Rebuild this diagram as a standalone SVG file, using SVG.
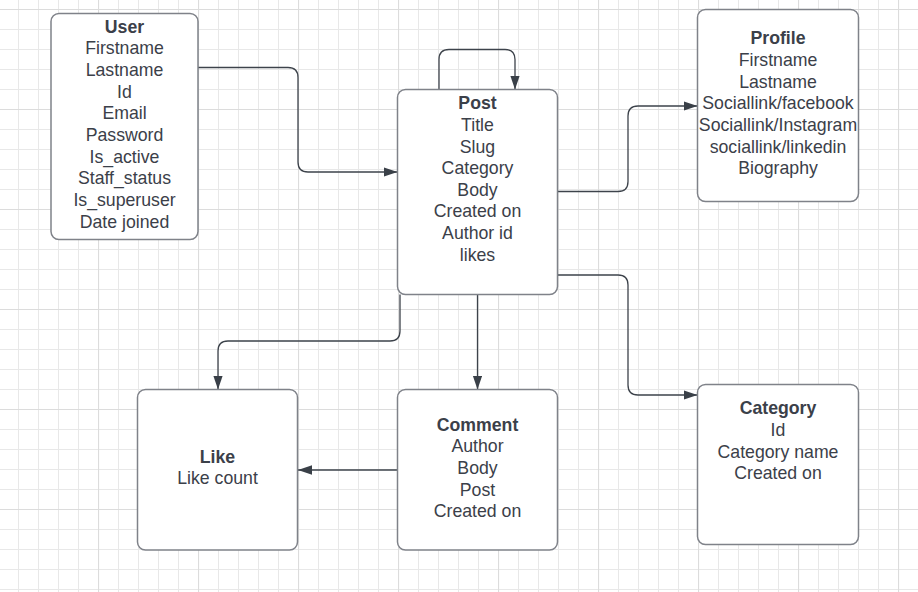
<svg xmlns="http://www.w3.org/2000/svg" width="918" height="592" viewBox="0 0 918 592">
<defs>
<pattern id="minor" x="18" y="9" width="20" height="20" patternUnits="userSpaceOnUse">
<path d="M0.5 0 V20 M0 0.5 H20" stroke="#e8e8e8" stroke-width="1" fill="none"/>
</pattern>
<pattern id="major" x="98" y="9" width="100" height="100" patternUnits="userSpaceOnUse">
<path d="M0.5 0 V100 M0 0.5 H100" stroke="#dcdcdc" stroke-width="1.2" fill="none"/>
</pattern>
<marker id="arr" markerUnits="userSpaceOnUse" markerWidth="15" markerHeight="10" refX="14" refY="4.75" orient="auto">
<path d="M0,0 L14,4.75 L0,9.5 z" fill="#3a4048"/>
</marker>
<style>
.box{fill:#ffffff;stroke:#7f8289;stroke-width:1.5}
.t{font-family:"Liberation Sans",Arial,sans-serif;font-size:17.7px;fill:#3b4049;text-anchor:middle}
.h{font-weight:bold}
.c{fill:none;stroke:#3d434b;stroke-width:1.3;marker-end:url(#arr)}
</style>
</defs>
<rect width="918" height="592" fill="#ffffff"/>
<rect width="918" height="592" fill="url(#minor)"/>
<rect width="918" height="592" fill="url(#major)"/>

<g id="connectors">
<path class="c" d="M198,67.5 H288 Q298,67.5 298,77.5 V162 Q298,172 308,172 H397.5"/>
<path class="c" d="M439,89.5 V59.5 Q439,49.5 449,49.5 H505 Q515,49.5 515,59.5 V89.5"/>
<path class="c" d="M557.5,191.5 H618 Q628,191.5 628,181.5 V116 Q628,106 638,106 H697.5"/>
<path class="c" d="M557.5,275 H618 Q628,275 628,285 V385 Q628,395 638,395 H697.5"/>
<path class="c" d="M400,294.5 V331 Q400,341 390,341 H228 Q218,341 218,351 V389.5"/>
<path class="c" d="M477.5,294.5 V389.5"/>
<path class="c" d="M397.5,470 H298"/>
</g>

<g id="user">
<rect class="box" x="51" y="13.5" width="147" height="226" rx="8"/>
<text class="t" x="124.5" y="32.7"><tspan class="h">User</tspan><tspan x="124.5" dy="21.67">Firstname</tspan><tspan x="124.5" dy="21.67">Lastname</tspan><tspan x="124.5" dy="21.67">Id</tspan><tspan x="124.5" dy="21.67">Email</tspan><tspan x="124.5" dy="21.67">Password</tspan><tspan x="124.5" dy="21.67">Is_active</tspan><tspan x="124.5" dy="21.67">Staff_status</tspan><tspan x="124.5" dy="21.67">Is_superuser</tspan><tspan x="124.5" dy="21.67">Date joined</tspan></text>
</g>

<g id="post">
<rect class="box" x="397.5" y="89.5" width="160" height="205" rx="8"/>
<text class="t" x="477.5" y="109.3"><tspan class="h">Post</tspan><tspan x="477.5" dy="21.6">Title</tspan><tspan x="477.5" dy="21.6">Slug</tspan><tspan x="477.5" dy="21.6">Category</tspan><tspan x="477.5" dy="21.6">Body</tspan><tspan x="477.5" dy="21.6">Created on</tspan><tspan x="477.5" dy="21.6">Author id</tspan><tspan x="477.5" dy="21.6">likes</tspan></text>
</g>

<g id="profile">
<rect class="box" x="697.5" y="9.5" width="161" height="192" rx="8"/>
<text class="t" x="778" y="44.3"><tspan class="h">Profile</tspan><tspan x="778" dy="21.67">Firstname</tspan><tspan x="778" dy="21.67">Lastname</tspan><tspan x="778" dy="21.67">Sociallink/facebook</tspan><tspan x="778" dy="21.67">Sociallink/Instagram</tspan><tspan x="778" dy="21.67">sociallink/linkedin</tspan><tspan x="778" dy="21.67">Biography</tspan></text>
</g>

<g id="category">
<rect class="box" x="697.5" y="384.5" width="161" height="160" rx="8"/>
<text class="t" x="778" y="414.3"><tspan class="h">Category</tspan><tspan x="778" dy="21.6">Id</tspan><tspan x="778" dy="21.6">Category name</tspan><tspan x="778" dy="21.6">Created on</tspan></text>
</g>

<g id="like">
<rect class="box" x="137.5" y="389.5" width="160" height="160.5" rx="8"/>
<text class="t" x="217.5" y="462.7"><tspan class="h">Like</tspan><tspan x="217.5" dy="21.6">Like count</tspan></text>
</g>

<g id="comment">
<rect class="box" x="397.5" y="389.5" width="160" height="160.5" rx="8"/>
<text class="t" x="477.5" y="430.7"><tspan class="h">Comment</tspan><tspan x="477.5" dy="21.6">Author</tspan><tspan x="477.5" dy="21.6">Body</tspan><tspan x="477.5" dy="21.6">Post</tspan><tspan x="477.5" dy="21.6">Created on</tspan></text>
</g>
</svg>
